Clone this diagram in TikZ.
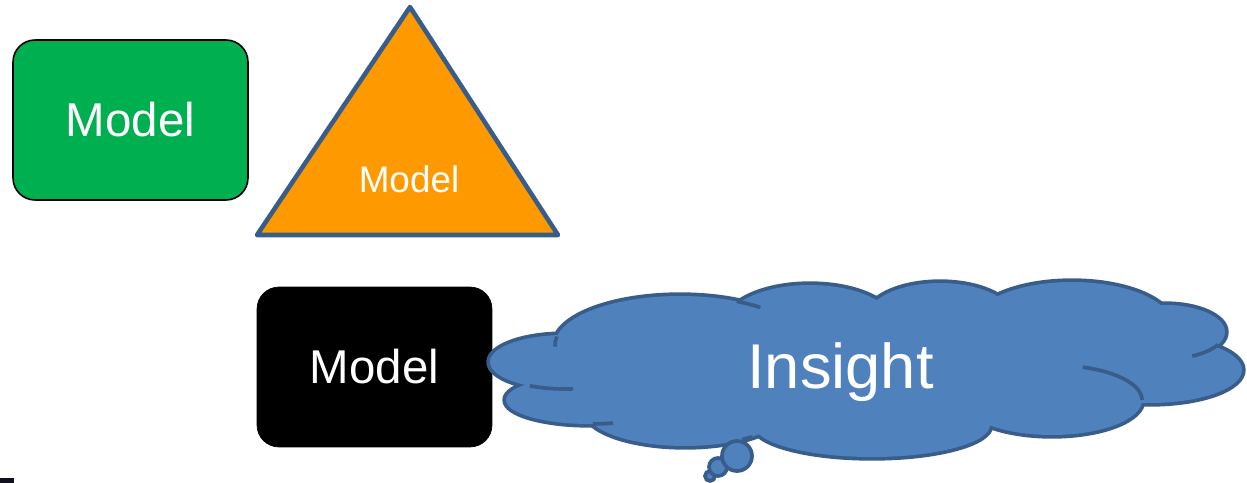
\documentclass[tikz,border=0pt]{standalone}
\usepackage{fontspec}
\setmainfont{Liberation Sans}
\usetikzlibrary{positioning}
\definecolor{ModelGreen}{HTML}{00B050}
\definecolor{ModelOrange}{HTML}{FF9900}
\definecolor{EdgeBlue}{HTML}{385D8A}
\definecolor{CloudBlue}{HTML}{4F81BD}
\definecolor{CornerInk}{HTML}{10101E}

\tikzset{
  modelbox/.style={
    rounded corners=12.5pt,
    minimum width=4.7cm,
    minimum height=3.2cm,
    text=white,
    font=\fontsize{27}{31}\selectfont
  },
  puffrim/.style={draw=EdgeBlue, line width=4.2pt},
  crease/.style={draw=EdgeBlue, line width=2.1pt},
  bubble/.style={fill=CloudBlue, draw=EdgeBlue, line width=2.1pt}
}

\begin{document}
\begin{tikzpicture}[x=0.02cm, y=-0.02cm]
  \useasboundingbox (0,0) rectangle (1247,483);

  % the three models
  \node[
    modelbox,
    fill=ModelGreen,
    draw=black,
    line width=0.9pt
  ] (greenmodel) at (130.5,120) {Model};

  \draw[
    fill=ModelOrange,
    draw=EdgeBlue,
    line width=2.6pt,
    line join=round
  ] (410,7) -- (558,235) -- (257,235) -- cycle;
  \node[text=white, font=\fontsize{21}{25}\selectfont] (orangemodel) at (409,179) {Model};

  \node[
    modelbox,
    fill=black,
    draw=black
  ] (blackmodel) at (374.5,367) {Model};

  % cloud: rims first, then fill over them
  \foreach \cx/\cy/\rx/\ry in {565/362/75/27, 590/400/84/24, 685/410/100/36,
      680/345/125/49, 810/325/85/40, 940/320/75/37, 1072/325/100/43,
      1165/332/60/27, 1150/370/92/33, 1052/400/90/35, 872/425/118/32}
    \path[puffrim] (\cx,\cy) ellipse [x radius=\rx, y radius=\ry];
  \foreach \cx/\cy/\rx/\ry in {565/362/75/27, 590/400/84/24, 685/410/100/36,
      680/345/125/49, 810/325/85/40, 940/320/75/37, 1072/325/100/43,
      1165/332/60/27, 1150/370/92/33, 1052/400/90/35, 872/425/118/32,
      870/368/320/60}
    \fill[CloudBlue] (\cx,\cy) ellipse [x radius=\rx, y radius=\ry];

  % inner creases
  \foreach \cx/\cy/\rx/\ry/\a/\b in {565/362/75/27/118/84, 680/345/125/49/190/178,
      680/345/125/49/297/310, 590/400/84/24/88/74, 685/410/100/36/55/48,
      1165/332/60/27/63/28, 1052/400/90/35/290/360}
    \path[crease] (\cx,\cy) ++(\a:{\rx} and {\ry})
      arc[start angle=\a, end angle=\b, x radius=\rx, y radius=\ry];

  \foreach \bx/\by/\br in {710/476/5, 718/467/9, 737/456/15}
    \path[bubble] (\bx,\by) circle[radius=\br];

  \node[anchor=base, text=white, font=\fontsize{36}{41}\selectfont] (insight) at (840.5,388) {Insight};

  \fill[CornerInk] (0,478) rectangle (14,483);
\end{tikzpicture}
\end{document}
